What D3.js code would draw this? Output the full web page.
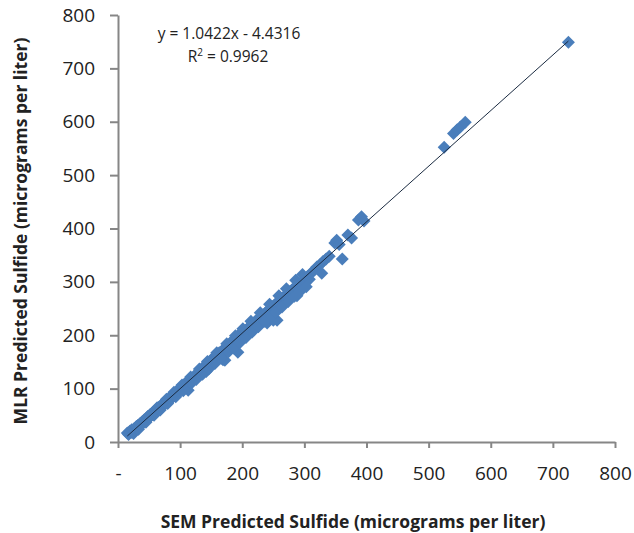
<!DOCTYPE html>
<html>
<head>
<meta charset="utf-8">
<script src="https://cdn.jsdelivr.net/npm/d3@7"></script>
<style>
  html, body { margin: 0; padding: 0; background: #fff; }
  svg { display: block; }
</style>
</head>
<body>
<svg id="chart" width="634" height="533"></svg>
<script>
// SEM predicted sulfide (x) values
const semValues = [15,17,19,21,22,24,26,27,29,31,32,34,36,37,39,41,42,44,46,47,49,51,52,54,56,57,59,61,62,64,66,67,69,71,72,74,76,77,79,81,82,84,86,87,89,91,92,94,96,97,99,101,102,104,106,108,110,111,113,115,116,118,120,121,123,125,127,128,130,132,133,135,137,138,140,142,143,145,147,148,150,152,153,155,157,158,160,162,163,165,167,168,169,170,172,172,174,176,177,179,180,182,184,185,187,188,190,192,193,193,195,197,198,200,202,203,205,207,208,210,212,213,215,217,218,220,222,223,225,227,228,230,232,233,235,237,238,240,240,242,243,245,247,248,250,250,252,253,255,256,257,258,260,262,263,265,267,268,270,272,273,275,277,278,280,282,283,285,288,288,290,292,294,296,298,300,302,305,308,312,316,320,325,328,330,335,340,349,352,356,361,370,376,387,392,396,525,540,546,551,559,725,
  25,33,45,58,68,80,93,105,118,126,136,146,156,166,178,186,196,206,216,226,236,246,254,264,274,284,293,303,
  30,48,63,78,90,103,117,131,144,159,175,189,201,214,229,244,259,271,286,297];
// MLR predicted sulfide (y) values
const mlrValues = [17,14,20,18,23,21,25,22,28,27,31,30,35,32,38,36,41,40,45,42,48,47,52,50,55,53,58,56,62,60,65,62,68,66,72,70,75,73,78,76,82,80,86,83,88,87,92,90,97,94,100,97,104,101,107,104,112,108,97,113,116,114,120,117,123,121,128,124,132,128,134,131,140,134,142,132,146,143,150,145,154,150,157,152,160,156,163,158,167,162,170,165,154,174,153,169,177,172,181,176,185,180,188,183,192,186,196,190,168,199,193,202,196,205,199,208,202,210,205,214,208,218,212,221,214,225,218,228,222,231,225,235,228,238,232,241,234,245,223,238,248,242,251,245,255,228,248,258,251,228,261,255,265,258,268,261,272,265,275,268,278,271,282,275,285,278,288,281,274,292,286,296,290,300,294,304,299,310,305,318,322,328,332,316,338,343,348,373,378,370,343,388,382,416,422,414,552,578,585,590,599,749,
  16,24,37,50,60,72,85,96,110,117,127,137,147,157,169,176,186,196,206,216,226,236,243,253,263,273,282,291,
  29,48,64,80,93,107,122,137,151,167,184,199,212,226,242,258,274,287,303,314];
// axis tick values and labels
const xTicks = [0,100,200,300,400,500,600,700,800];
const xTickLabels = ["-","100","200","300","400","500","600","700","800"];
const yTicks = [0,100,200,300,400,500,600,700,800];
// trendline coefficients (as printed)
const slope = 1.0422, intercept = -4.4316;
const equationText = "y = 1.0422x - 4.4316";
const r2Value = "0.9962";
const xTitle = "SEM Predicted Sulfide (micrograms per liter)";
const yTitle = "MLR Predicted Sulfide (micrograms per liter)";

const svg = d3.select("#chart");
const x = d3.scaleLinear().domain([0, 800]).range([118, 615]);
const y = d3.scaleLinear().domain([0, 800]).range([442, 15]);
const axisColor = "#868686";
const font = "'Open Sans', Lato, sans-serif";

const xMin = d3.min(semValues), xMax = d3.max(semValues);

// points
const r = 6.5;
const diamond = `M0,${-r}L${r},0L0,${r}L${-r},0Z`;
svg.append("g").selectAll("path")
  .data(semValues.map((v, i) => [v, mlrValues[i]]))
  .join("path")
  .attr("d", diamond)
  .attr("transform", d => `translate(${x(d[0])},${y(d[1])})`)
  .attr("fill", "#4a7ebb");

// trendline on top (thin, dark)
svg.append("line")
  .attr("x1", x(xMin)).attr("y1", y(slope * xMin + intercept))
  .attr("x2", x(xMax)).attr("y2", y(slope * xMax + intercept))
  .attr("stroke", "#1a2a40").attr("stroke-width", 1);

// x axis
const xAxis = d3.axisBottom(x).tickValues(xTicks)
  .tickFormat((d, i) => xTickLabels[i]).tickSizeInner(6).tickSizeOuter(0).tickPadding(19);
const gx = svg.append("g").attr("transform", `translate(0,${y(0)})`).call(xAxis);
gx.select(".domain").attr("stroke", axisColor).attr("stroke-width", 2);
gx.selectAll(".tick line").attr("stroke", axisColor).attr("stroke-width", 2);
gx.selectAll(".tick text").attr("font-family", font).attr("font-size", 19).attr("fill", "#222");

// y axis
const yAxis = d3.axisLeft(y).tickValues(yTicks).tickSizeInner(8).tickSizeOuter(0).tickPadding(15);
const gy = svg.append("g").attr("transform", `translate(${x(0)},0)`).call(yAxis);
gy.select(".domain").attr("stroke", axisColor).attr("stroke-width", 2);
gy.selectAll(".tick line").attr("stroke", axisColor).attr("stroke-width", 2);
gy.selectAll(".tick text").attr("font-family", font).attr("font-size", 19).attr("fill", "#222");

// axis titles
svg.append("text")
  .attr("x", 353).attr("y", 528).attr("text-anchor", "middle")
  .attr("font-family", font).attr("font-weight", "bold").attr("font-size", 17.5).attr("fill", "#222")
  .text(xTitle);
svg.append("text")
  .attr("transform", "translate(27,231) rotate(-90)").attr("text-anchor", "middle")
  .attr("font-family", font).attr("font-weight", "bold").attr("font-size", 17.5).attr("fill", "#222")
  .text(yTitle);

// equation
svg.append("text")
  .attr("x", 229).attr("y", 39).attr("text-anchor", "middle")
  .attr("font-family", font).attr("font-size", 15.5).attr("fill", "#222")
  .text(equationText);
const r2 = svg.append("text")
  .attr("x", 228).attr("y", 62).attr("text-anchor", "middle")
  .attr("font-family", font).attr("font-size", 15.5).attr("fill", "#222");
r2.append("tspan").text("R");
r2.append("tspan").text("2").attr("font-size", 10).attr("dy", -6);
r2.append("tspan").text(" = " + r2Value).attr("dy", 6);
</script>
</body>
</html>
